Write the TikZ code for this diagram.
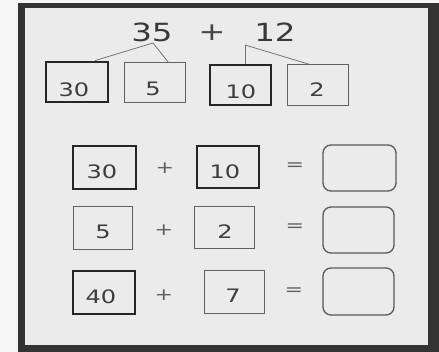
\documentclass[tikz,border=0pt]{standalone}
\usepackage{fontspec}
\newfontfamily\digf[FakeStretch=1.3]{DejaVu Sans}
\begin{document}
\begin{tikzpicture}[x=1pt,y=-1pt,
  thickbox/.style={draw=black!85,line width=2.8pt,minimum width=#1,minimum height=40pt,inner sep=0pt},
  thinbox/.style={draw=black!62,line width=1pt,minimum width=#1,minimum height=40pt,inner sep=0pt},
  ansbox/.style={draw=black!65,line width=1.3pt,rounded corners=8pt,minimum width=71pt,minimum height=46pt,inner sep=0pt},
  num/.style={anchor=base,inner sep=0pt,text=black!76,font=\digf\fontsize{18.5}{20}\selectfont},
  op/.style={inner sep=0pt,text=black!62,font=\digf\fontsize{17}{20}\selectfont},
  big/.style={anchor=base,inner sep=0pt,text=black!78,font=\digf\fontsize{25}{30}\selectfont},
  link/.style={draw=black!55,line width=0.8pt}]
\useasboundingbox (0,0) rectangle (439,352);
\fill[black!4] (0,0) rectangle (439,352);
\fill[black!80] (18,3) rectangle (439,352);
\fill[black!8] (25,8) rectangle (428,345);
% top expression
\node[big] (t35) at (152,42) {35};
\node[op,font=\digf\fontsize{25}{30}\selectfont,text=black!72] (tplus) at (212,33) {+};
\node[big] (t12) at (275,42) {12};
\coordinate (s35) at (153,43);
\coordinate (s12) at (245,45);
% first row boxes
\node[thickbox=62pt,minimum height=40pt] (b30) at (77,82) {};
\node[thinbox=61pt,minimum height=40pt] (b5) at (154.5,83) {};
\node[thickbox=61pt,minimum height=40pt] (b10) at (240.5,85) {};
\node[thinbox=61pt,minimum height=41pt] (b2) at (317.5,85.5) {};
\node[num] (n30) at (74,97) {30};
\node[num] (n5) at (153,96) {5};
\node[num] (n10) at (241,99) {10};
\node[num] (n2) at (317,97) {2};
\draw[link] (s35) -- ([xshift=18pt]b30.north);
\draw[link] (s35) -- ([xshift=14pt]b5.north);
\draw[link] (s12) -- ([xshift=4.5pt]b10.north);
\draw[link] (s12) -- ([xshift=-7.5pt]b2.north);
% row A
\node[thickbox=63pt,minimum height=43pt] (a1) at (104.5,167.5) {};
\node[thickbox=62pt,minimum height=42pt] (a2) at (228,167) {};
\node[ansbox,minimum width=73pt] (a3) at (359.5,168) {};
\node[num] (na1) at (102,179) {30};
\node[num] (na2) at (225,179) {10};
\node[op] (pa) at (165,168) {+};
\node[op] (ea) at (295,167) {=};
% row B
\node[thinbox=59pt,minimum height=43pt] (c1) at (102.5,228.5) {};
\node[thinbox=60pt,minimum height=42pt] (c2) at (224,228) {};
\node[ansbox] (c3) at (358.5,230) {};
\node[num] (nc1) at (103,239) {5};
\node[num] (nc2) at (225,239) {2};
\node[op] (pc) at (164,230) {+};
\node[op] (ec) at (295,228) {=};
% row C
\node[thickbox=62pt,minimum height=43pt] (d1) at (104,292.5) {};
\node[thinbox=60pt,minimum height=43pt] (d2) at (234,292.5) {};
\node[ansbox,minimum height=47pt] (d3) at (358.5,291.5) {};
\node[num] (nd1) at (101,304) {40};
\node[num] (nd2) at (233,303) {7};
\node[op] (pd) at (164,295) {+};
\node[op] (ed) at (294,292) {=};
\end{tikzpicture}
\end{document}
